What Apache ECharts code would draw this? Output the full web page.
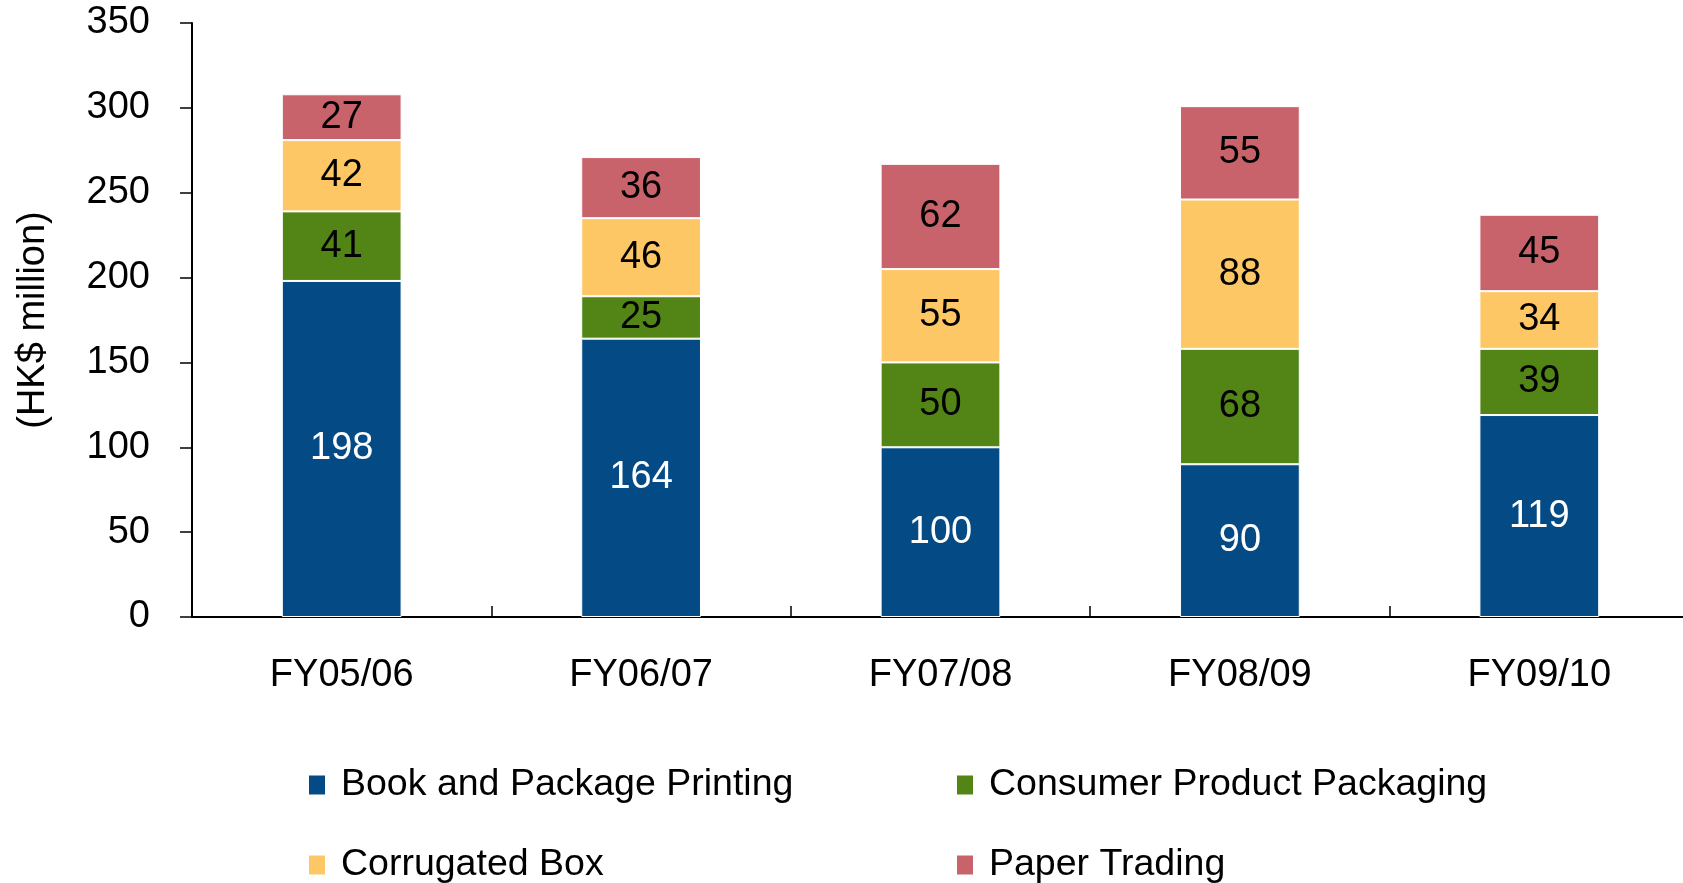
<!DOCTYPE html>
<html>
<head>
<meta charset="utf-8">
<script src="https://cdn.jsdelivr.net/npm/echarts@6/dist/echarts.min.js"></script>
<style>
html,body{margin:0;padding:0;background:#fff;}
#chart{width:1683px;height:883px;}
</style>
</head>
<body>
<div id="chart"></div>
<script>
var categories = ['FY05/06', 'FY06/07', 'FY07/08', 'FY08/09', 'FY09/10'];
var bookPrinting = [198, 164, 100, 90, 119];
var consumerPackaging = [41, 25, 50, 68, 39];
var corrugatedBox = [42, 46, 55, 88, 34];
var paperTrading = [27, 36, 62, 55, 45];
var yTicks = [0, 50, 100, 150, 200, 250, 300, 350];

var seriesNames = ['Book and Package Printing', 'Consumer Product Packaging', 'Corrugated Box', 'Paper Trading'];
var seriesData = [bookPrinting, consumerPackaging, corrugatedBox, paperTrading];
var colors = ['#044a85', '#538516', '#fec766', '#c9636b'];
var labelColors = ['#ffffff', '#000000', '#000000', '#000000'];
var FONT = 'Liberation Sans, Arial, sans-serif';

var chart = echarts.init(document.getElementById('chart'));

var legendPos = [[307, 766], [955, 766], [307, 846], [955, 846]];
var legends = seriesNames.map(function (n, i) {
  return {
    data: [n],
    left: legendPos[i][0],
    top: legendPos[i][1],
    icon: 'rect',
    itemWidth: 18,
    itemHeight: 21,
    padding: 0,
    selectedMode: false,
    textStyle: { fontSize: 37.5, fontFamily: FONT, color: '#000', padding: [0, 0, 0, 10] }
  };
});

chart.setOption({
  animation: false,
  color: colors,
  grid: { left: 192, right: -6, top: 23, bottom: 266, containLabel: false, outerBoundsMode: 'none' },
  legend: legends,
  xAxis: {
    type: 'category',
    data: categories,
    axisLine: { lineStyle: { color: '#000', width: 2 } },
    axisTick: { show: true, inside: true, length: 11, lineStyle: { color: '#000', width: 1.5 } },
    axisLabel: { fontSize: 38, fontFamily: FONT, color: '#000', margin: 40 }
  },
  yAxis: {
    type: 'value',
    min: yTicks[0],
    max: yTicks[yTicks.length - 1],
    interval: 50,
    name: '(HK$ million)',
    nameLocation: 'middle',
    nameGap: 139,
    nameRotate: 90,
    nameTextStyle: { fontSize: 38, fontFamily: FONT, color: '#000' },
    axisLine: { show: true, lineStyle: { color: '#000', width: 2 } },
    axisTick: { show: true, length: 12, lineStyle: { color: '#000', width: 1.5 } },
    splitLine: { show: false },
    axisLabel: { fontSize: 38, fontFamily: FONT, color: '#000', margin: 42 }
  },
  series: seriesNames.map(function (n, i) {
    return {
      name: n,
      type: 'bar',
      stack: 'total',
      barWidth: '40%',
      data: seriesData[i],
      itemStyle: { color: colors[i], borderColor: '#ffffff', borderWidth: 1 },
      label: {
        show: true,
        position: 'inside',
        fontSize: 38,
        fontFamily: FONT,
        color: labelColors[i]
      }
    };
  })
});
</script>
</body>
</html>
